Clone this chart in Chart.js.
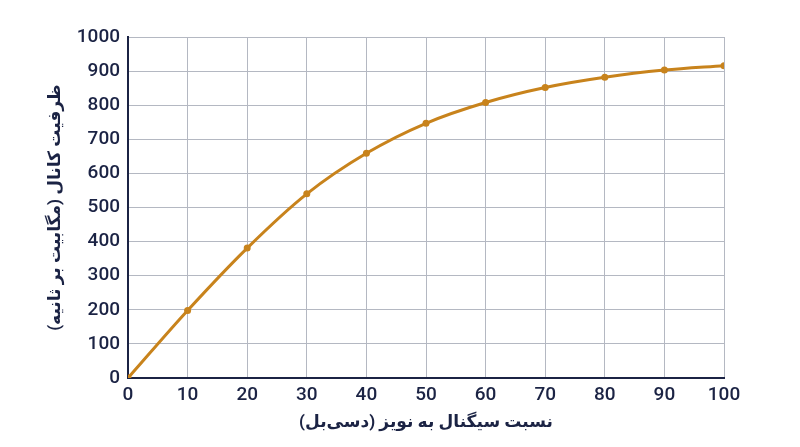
<!DOCTYPE html>
<html>
<head>
<meta charset="utf-8">
<script src="https://cdn.jsdelivr.net/npm/chart.js@4"></script>
<style>
html,body{margin:0;padding:0;background:#fff;}
#wrap{width:800px;height:447px;position:relative;}
</style>
</head>
<body>
<div id="wrap"><canvas id="c" width="800" height="447"></canvas></div>
<script>
const snrDb = [0, 10, 20, 30, 40, 50, 60, 70, 80, 90, 100];
const capacity = [0, 198, 381, 540, 659, 747, 808, 852, 882, 903, 916];
const xTitle = "\u200Fنسبت سیگنال به نویز (دسی\u200Cبل)\u200F";
const yTitle = "\u200Fظرفیت کانال (مگابیت بر ثانیه)\u200F";

const navy = '#1b2344';
const lineColor = '#c8831c';
const fontFam = "Roboto, 'DejaVu Sans', sans-serif";

new Chart(document.getElementById('c'), {
  type: 'line',
  data: {
    datasets: [{
      data: snrDb.map((x, i) => ({x: x, y: capacity[i]})),
      borderColor: lineColor,
      backgroundColor: lineColor,
      borderWidth: 3,
      pointRadius: 3.5,
      pointBackgroundColor: lineColor,
      pointBorderWidth: 0,
      tension: 0.4,
      cubicInterpolationMode: 'monotone',
      fill: false
    }]
  },
  options: {
    responsive: false,
    animation: false,
    layout: {padding: {left: 46, right: 76, top: 37, bottom: 14}},
    plugins: {legend: {display: false}, tooltip: {enabled: false}},
    scales: {
      x: {
        type: 'linear', min: 0, max: 100,
        ticks: {stepSize: 10, color: navy, font: {family: fontFam, size: 19, weight: '500'}, padding: 6, maxRotation: 0,
                callback: v => String(v)},
        grid: {color: '#b4b8c2', lineWidth: 1, drawTicks: false},
        border: {color: navy, width: 2},
        title: {display: true, text: xTitle, color: navy, font: {family: fontFam, size: 17, weight: 'bold'}, padding: {top: 6, bottom: 0}},
        afterFit: s => { s.height = 55; }
      },
      y: {
        min: 0, max: 1000,
        ticks: {stepSize: 100, color: navy, font: {family: fontFam, size: 19, weight: '500'}, padding: 8,
                callback: v => String(v)},
        grid: {color: '#b4b8c2', lineWidth: 1, drawTicks: false},
        border: {color: navy, width: 2},
        title: {display: true, text: yTitle, color: navy, font: {family: fontFam, size: 17, weight: 'bold'}, padding: {top: 0, bottom: 0}},
        afterFit: s => { s.width = 82; }
      }
    }
  }
});
</script>
</body>
</html>
